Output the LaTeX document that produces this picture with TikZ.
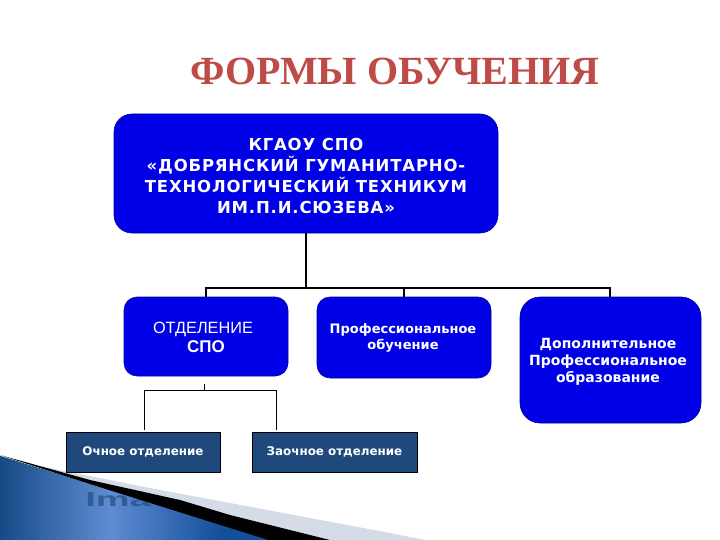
\documentclass[tikz,border=0pt]{standalone}
\usepackage{fontspec}
\setmainfont{DejaVu Sans}
\newfontfamily\serifbold{Liberation Serif}
\newfontfamily\liber{Liberation Sans}
\definecolor{boxblue}{HTML}{0000E6}
\definecolor{boxdark}{HTML}{1F497D}
\definecolor{titlered}{HTML}{BE4B48}
\definecolor{bandgrey}{HTML}{D5DCE8}
\definecolor{gradL}{HTML}{164A86}
\definecolor{gradM}{HTML}{5F8CD2}
\definecolor{gradR}{HTML}{14509A}
\tikzset{
  blueBox/.style={draw=boxblue!70!black,line width=.6pt,fill=boxblue,text=white,align=center},
  darkBox/.style={draw=black,line width=.6pt,fill=boxdark,text=white,align=center,font=\fontsize{11.9}{14}\selectfont\bfseries},
  trunk/.style={draw=black,line width=1.6pt},
  thin line/.style={draw=black,line width=.7pt}
}
\begin{document}
\begin{tikzpicture}[x=1pt,y=-1pt]
\useasboundingbox (0,0) rectangle (720,540);
% decorative corner
\fill[bandgrey] (40,466) -- (150,488) -- (230,503) -- (390,533) -- (425,540) -- (260,540) -- cycle;
\fill[black] (0,455) -- (90,480) -- (180,500) -- (230,515) -- (330,540) -- (262,540) -- cycle;
\begin{scope}
\clip (0,456) -- (268,540) -- (0,540) -- cycle;
\fill[left color=gradL,right color=gradR,middle color=gradM] (0,456) rectangle (220,540);
\fill[gradR] (219.5,456) rectangle (268,540);
\node[text=boxdark!85!gradM,opacity=.8,font=\liber\fontsize{20}{20}\selectfont\bfseries,anchor=west,xscale=1.9,inner sep=0pt] (wm) at (85,500) {Ima};
\end{scope}
% title
\node[text=titlered,font=\serifbold\fontsize{40}{44}\selectfont\bfseries] (title) at (395,71) {ФОРМЫ ОБУЧЕНИЯ};
% boxes
\path[blueBox,rounded corners=18pt] (114,114) rectangle (498,233);
\node[text=white,align=center,font=\fontsize{16.5}{21}\selectfont\bfseries\addfontfeatures{LetterSpace=5}] (top) at (306,175.5) {КГАОУ СПО\\«ДОБРЯНСКИЙ ГУМАНИТАРНО-\\ТЕХНОЛОГИЧЕСКИЙ ТЕХНИКУМ\\ИМ.П.И.СЮЗЕВА»};
\coordinate (topS) at (306,233);
\path[blueBox,rounded corners=13pt] (124,297) rectangle (288,376);
\node[text=white,align=center,font=\liber\fontsize{16.3}{19}\selectfont] (spo) at (203,337) {ОТДЕЛЕНИЕ\\\hspace*{6pt}\textbf{\fontsize{17}{19}\selectfont СПО}};
\path[blueBox,rounded corners=13pt] (317,297) rectangle (491,378);
\node[text=white,align=center,font=\fontsize{13}{16}\selectfont\bfseries] (prof) at (403,338) {Профессиональное\\обучение};
\path[blueBox,rounded corners=20pt] (520,297) rectangle (701,423);
\node[text=white,align=center,font=\fontsize{14}{17}\selectfont\bfseries] (dop) at (608,362) {Дополнительное\\Профессиональное\\образование};
\node[darkBox,minimum width=154pt,minimum height=40pt,inner sep=0pt] (och) at (143,452) {Очное отделение};
\node[darkBox,minimum width=165pt,minimum height=40pt,inner sep=0pt] (zao) at (334.5,452) {Заочное отделение};
% connectors
\coordinate (j1) at (306,288);
\coordinate (d1) at (206,297);
\coordinate (d2) at (404,297);
\coordinate (d3) at (610,297);
\draw[trunk] (topS) -- (j1);
\draw[trunk] (d1) -- (206,288) -- (610,288) -- (d3);
\draw[trunk] (404,288) -- (d2);
\coordinate (s1) at (204,384);
\draw[thin line] (s1) -- (204,390);
\draw[thin line] (144,430) -- (144,390) -- (276,390) -- (276,430);
\end{tikzpicture}
\end{document}
